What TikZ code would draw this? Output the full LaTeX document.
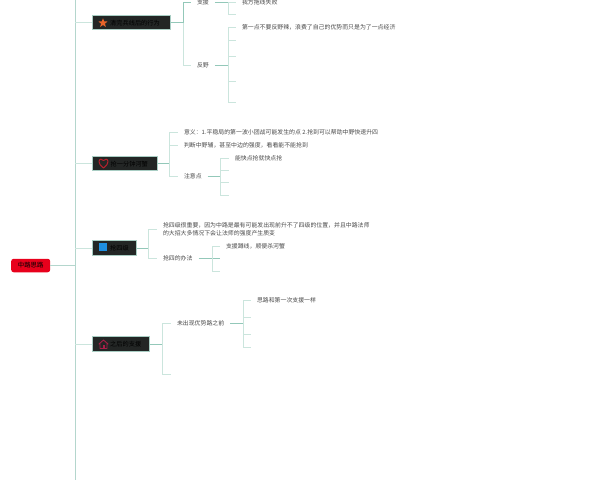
\documentclass[tikz,border=0pt]{standalone}
\usepackage{fontspec}
\setmainfont{Noto Sans CJK SC}
\usetikzlibrary{shapes.geometric}
\definecolor{linelight}{HTML}{CBE5DD}
\definecolor{linedark}{HTML}{93C8B9}
\definecolor{spinecol}{HTML}{B4D6CD}
\definecolor{boxfill}{HTML}{232625}
\definecolor{boxedge}{HTML}{A8CDC3}
\definecolor{textgrey}{HTML}{4A4A4A}
\definecolor{rootred}{HTML}{E8001C}
\definecolor{iconblue}{HTML}{1E8FE0}
\definecolor{iconorange}{HTML}{E8642A}
\definecolor{iconred}{HTML}{B3202C}
\definecolor{iconrose}{HTML}{A81E48}
\tikzset{
  x=1pt,y=-1pt,
  trunk/.style={draw=linedark,line width=1pt},
  twig/.style={draw=linelight,line width=1pt},
  spine/.style={draw=spinecol,line width=1pt},
  label/.style={anchor=west,inner sep=0pt,outer xsep=6pt,outer ysep=0pt,font=\fontsize{5.9}{7.8}\selectfont,text=textgrey,align=left},
  topic/.style={anchor=west,draw=boxedge,fill=boxfill,line width=0.6pt,inner sep=0pt,minimum height=14.5pt,align=left},
  topictext/.style={anchor=west,inner sep=0pt,font=\fontsize{6.2}{8}\selectfont,text=black},
  rootbox/.style={anchor=west,fill=rootred,rounded corners=2.5pt,inner sep=0pt,minimum height=13.5pt,minimum width=39pt,font=\fontsize{6.4}{8}\selectfont,text=black},
  icon/.style={inner sep=0pt,anchor=center}
}
\begin{document}
\begin{tikzpicture}
\useasboundingbox[fill=white] (0,0) rectangle (600,480);
\begin{scope}
\clip (0,0) rectangle (600,480);
% spine
\coordinate (sT) at (75,0);
\coordinate (sB) at (75,480);
\coordinate (sR) at (75,265.5);
\draw[spine] (sT) -- (sB);
% root
\node[rootbox] (root) at (11,265.5) {中路思路};
\draw[spine] (root.east) -- (sR);
% topic 1
\node[topic,minimum width=78pt] (t1) at (92,22.5) {};
\node[icon,star,star points=5,star point ratio=2.3,fill=iconorange,minimum size=9.5pt] (i1) at (103,23) {};
\node[topictext] (l1) at (110,23) {清完兵线后的行为};
\coordinate (j1) at (183,22.5);
\coordinate (s1) at (75,22.5);
\draw[twig] (s1) -- (t1.west);
\draw[trunk] (t1.east) -- (j1);
\node[label] (a1) at (191,2) {支援};
\node[label] (a2) at (191,65) {反野};
\draw[trunk] (j1) |- (a1.west);
\draw[twig] (j1) |- (a2.west);
% 支援 children
\coordinate (j2) at (228,2);
\node[label] (b1) at (236,2) {我方拖线失败};
\coordinate (b2) at (236,14);
\draw[trunk] (a1.east) -- (j2);
\draw[twig] (j2) -- (b1.west);
\draw[twig] (j2) |- (b2);
% 反野 children
\coordinate (j3) at (228,65);
\node[label] (c1) at (236,27) {第一点不要反野辣，浪费了自己的优势而只是为了一点经济};
\coordinate (c2) at (236,40);
\coordinate (c3) at (236,56);
\coordinate (c4) at (236,81);
\coordinate (c5) at (236,102);
\draw[trunk] (a2.east) -- (j3);
\draw[twig] (j3) |- (c1.west);
\draw[twig] (j3) |- (c2);
\draw[twig] (j3) |- (c3);
\draw[twig] (j3) |- (c4);
\draw[twig] (j3) |- (c5);
% topic 2
\node[topic,minimum width=65pt] (t2) at (92,163.5) {};
\coordinate (i2) at (103.5,168);
\draw[iconred,line width=1pt,line join=round] (i2) .. controls (100,165) and (99,163.5) .. (99,161.5)
  .. controls (99,158.5) and (102.5,158.5) .. (103.5,160.5)
  .. controls (104.5,158.5) and (108,158.5) .. (108,161.5)
  .. controls (108,163.5) and (107,165) .. (i2) -- cycle;
\node[topictext] (l2) at (110.5,164) {抢一分钟河蟹};
\coordinate (s2) at (75,163.5);
\coordinate (j4) at (169,163.5);
\draw[twig] (s2) -- (t2.west);
\draw[trunk] (t2.east) -- (j4);
\node[label] (d1) at (178,132.5) {意义：1.平稳局的第一波小团战可能发生的点 2.抢到可以帮助中野快速升四};
\node[label] (d2) at (178,145) {判断中野辅，甚至中边的强度，看看能不能抢到};
\node[label] (d3) at (178,176.5) {注意点};
\draw[twig] (j4) |- (d1.west);
\draw[twig] (j4) |- (d2.west);
\draw[twig] (j4) |- (d3.west);
\coordinate (j5) at (220,176.5);
\node[label] (e1) at (229,158) {能快点抢就快点抢};
\coordinate (e2) at (229,170);
\coordinate (e3) at (229,182);
\coordinate (e4) at (229,195);
\draw[trunk] (d3.east) -- (j5);
\draw[twig] (j5) |- (e1.west);
\draw[twig] (j5) |- (e2);
\draw[twig] (j5) |- (e3);
\draw[twig] (j5) |- (e4);
% topic 3
\node[topic,minimum width=44pt] (t3) at (92,248) {};
\node[icon,fill=iconblue,minimum size=8pt] (i3) at (103,247) {};
\node[topictext] (l3) at (110,248.5) {抢四级};
\coordinate (s3) at (75,248);
\coordinate (j6) at (148,248);
\draw[twig] (s3) -- (t3.west);
\draw[trunk] (t3.east) -- (j6);
\node[label] (f1) at (157,229) {抢四级很重要，因为中路是最有可能发出现前升不了四级的位置，并且中路法师\\的大招大多情况下会让法师的强度产生质变};
\node[label] (f2) at (157,258) {抢四的办法};
\draw[twig] (j6) |- (f1.west);
\draw[twig] (j6) |- (f2.west);
\coordinate (j7) at (212,258);
\node[label] (g1) at (220,246) {支援蹲线，顺便杀河蟹};
\coordinate (g2) at (220,258);
\coordinate (g3) at (220,271);
\draw[trunk] (f2.east) -- (j7);
\draw[trunk] (j7) -- (g2);
\draw[twig] (j7) |- (g1.west);
\draw[twig] (j7) |- (g3);
% topic 4
\node[topic,minimum width=57pt] (t4) at (92,344) {};
\coordinate (i4) at (103.5,340);
\draw[iconrose,line width=0.9pt,line join=round] (i4) -- (108,344) -- (107,344) -- (107,348.5) -- (100,348.5) -- (100,344) -- (99,344) -- cycle;
\fill[iconrose] (102.5,345) rectangle (104.5,348.5);
\node[topictext] (l4) at (110,344.5) {之后的支援};
\coordinate (s4) at (75,344);
\coordinate (j8) at (162,344);
\draw[twig] (s4) -- (t4.west);
\draw[trunk] (t4.east) -- (j8);
\node[label] (h1) at (171,323.5) {未出现优势路之前};
\coordinate (h2) at (171,374);
\draw[twig] (j8) |- (h1.west);
\draw[twig] (j8) |- (h2);
\coordinate (j9) at (243,323.5);
\node[label] (k1) at (251,300.5) {思路和第一次支援一样};
\coordinate (k2) at (251,317);
\coordinate (k3) at (251,334);
\coordinate (k4) at (251,347);
\draw[trunk] (h1.east) -- (j9);
\draw[twig] (j9) |- (k1.west);
\draw[twig] (j9) |- (k2);
\draw[twig] (j9) |- (k3);
\draw[twig] (j9) |- (k4);
\end{scope}
\end{tikzpicture}
\end{document}
